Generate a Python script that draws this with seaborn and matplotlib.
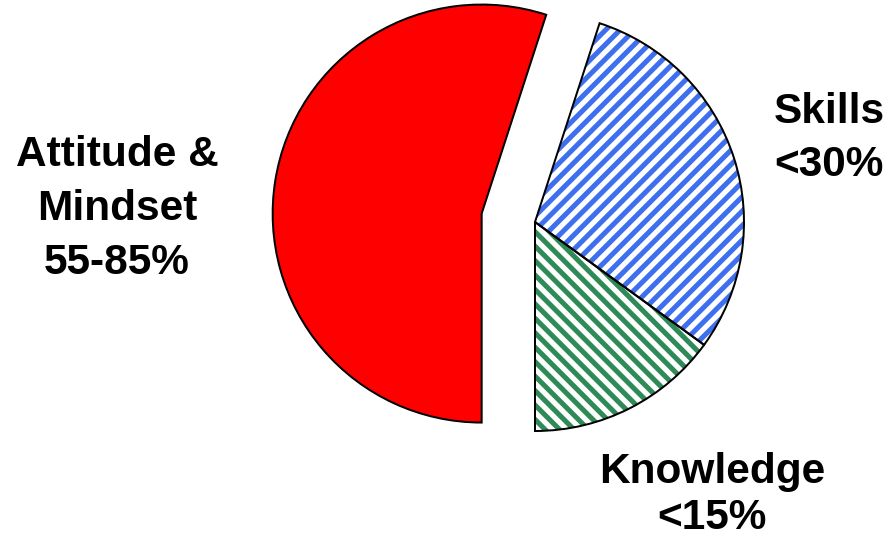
import matplotlib
matplotlib.use("Agg")
import matplotlib.pyplot as plt
import seaborn as sns

sns.set_theme(style="white")
plt.rcParams["font.family"] = ["Liberation Sans", "DejaVu Sans"]
plt.rcParams["hatch.linewidth"] = 2.8

# dados (sentido anti-horário a partir de baixo)
categorias = ["Knowledge", "Skills", "Attitude & Mindset"]
valores = [15, 30, 55]
rotulos = ["Knowledge\n<15%", "Skills\n<30%", "Attitude &\nMindset\n55-85%"]

cores = ["#2e8b57", "#3d6fee", "#ff0000"]
hachuras = ["\\\\\\", "///", None]

W, H, DPI = 891, 540, 130
fig = plt.figure(figsize=(W / DPI, H / DPI), dpi=DPI)
ax = fig.add_axes([0, 0, 1, 1])

centro = (535, H - 222)
raio = 209
explode = [0, 0, 54]  # deslocamento em unidades de dados (px)

# camada 1: preenchimento + hachuras coloridas
fatias, _ = ax.pie(valores, explode=explode, startangle=-90, counterclock=True,
                   center=centro, radius=raio, frame=True)
for f, c, h in zip(fatias, cores, hachuras):
    if h:
        f.set_facecolor("white")
        f.set_hatch(h)
    else:
        f.set_facecolor(c)
    f.set_edgecolor(c)
    f.set_linewidth(0)

# camada 2: contorno preto
ax.pie(valores, explode=explode, startangle=-90, counterclock=True,
       center=centro, radius=raio, frame=True,
       wedgeprops=dict(fill=False, edgecolor="black", linewidth=1.1))

ax.set_xlim(0, W)
ax.set_ylim(0, H)
ax.set_aspect("equal")
ax.axis("off")

pos_rotulos = [(712, H - 495), (829, H - 138.5), (117, H - 209)]
espacos = [1.22, 1.45, 1.45]
for txt, (x, y), ls in zip(rotulos, pos_rotulos, espacos):
    ax.text(x, y, txt, ha="center", va="center", fontsize=23.5,
            fontweight="bold", linespacing=ls, color="black")

fig.savefig("out.png", dpi=DPI)
